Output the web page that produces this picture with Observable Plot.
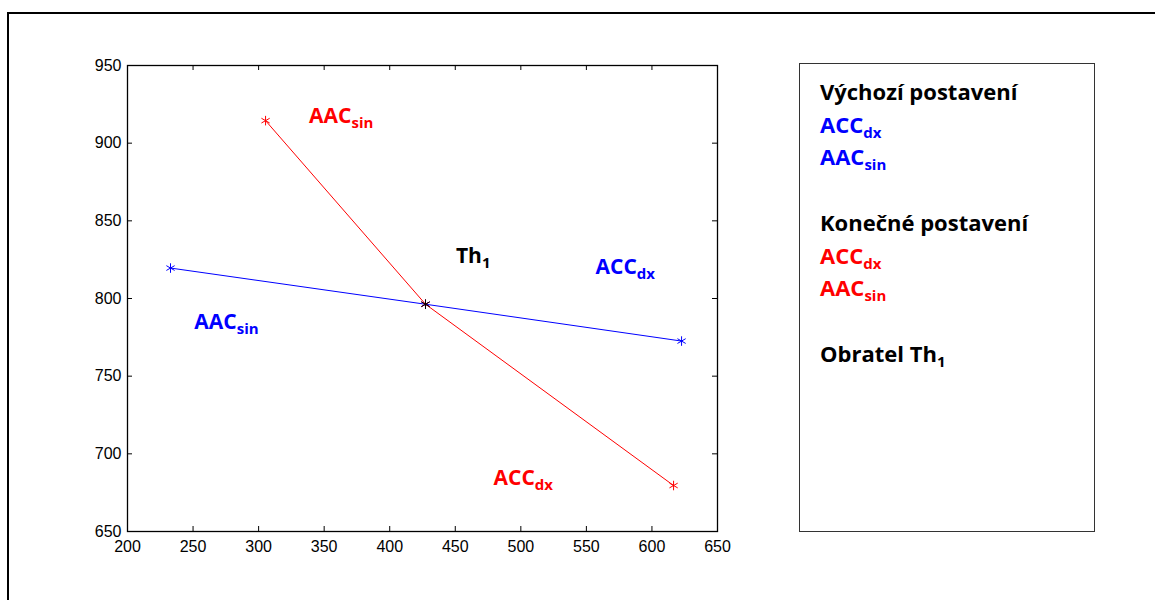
<!DOCTYPE html>
<html><head><meta charset="utf-8">
<script src="https://cdn.jsdelivr.net/npm/d3@7"></script>
<script src="https://cdn.jsdelivr.net/npm/@observablehq/plot@0.6"></script>
<style>
body{margin:0;background:#fff;width:1155px;height:600px;overflow:hidden;position:relative;}
#frame{position:absolute;left:7px;top:12px;width:1220px;height:700px;border:2px solid #000;box-sizing:border-box;}
#chart{position:absolute;left:0;top:0;}
#legend{position:absolute;left:799px;top:63px;width:296px;height:469px;border:1.5px solid #333;box-sizing:border-box;background:#fff;}
#legend svg{position:absolute;left:0;top:0;}
</style></head><body>
<div id="frame"></div><div id="chart"></div><div id="legend"></div>
<script>
// tick values
const xTicks = [200, 250, 300, 350, 400, 450, 500, 550, 600, 650];
const yTicks = [650, 700, 750, 800, 850, 900, 950];

// Výchozí postavení (blue): AAC_sin, Th1, ACC_dx
const initialX = [232.8, 427.3, 622.6];
const initialY = [819.6, 796.3, 772.6];
// Konečné postavení (red): AAC_sin, Th1, ACC_dx
const finalX = [305.3, 427.3, 616.5];
const finalY = [914.5, 796.3, 679.6];
// Obratel Th1 (black)
const th1X = [427.3];
const th1Y = [796.3];

// in-plot labels
const labelMain  = ["AAC", "Th", "ACC", "AAC", "ACC"];
const labelSub   = ["sin", "1", "dx", "sin", "dx"];
const labelX     = [338.5, 450.5, 557, 251, 479.2];
const labelY     = [917.5, 827.5, 820, 784.7, 684.2];
const labelColor = ["#ff0000", "#000000", "#0000ff", "#0000ff", "#ff0000"];

// legend
const legendMain  = ["Výchozí postavení", "ACC", "AAC", "", "Konečné postavení", "ACC", "AAC", "", "Obratel Th"];
const legendSub   = ["", "dx", "sin", "", "", "dx", "sin", "", "1"];
const legendColor = ["#000000", "#0000ff", "#0000ff", "", "#000000", "#ff0000", "#ff0000", "", "#000000"];

const initial = initialX.map((x, i) => ({x, y: initialY[i]}));
const final = finalX.map((x, i) => ({x, y: finalY[i]}));
const th1 = th1X.map((x, i) => ({x, y: th1Y[i]}));
const labels = labelMain.map((m, i) => ({main: m, sub: labelSub[i], x: labelX[i], y: labelY[i], color: labelColor[i]}));

const FONT = "'Open Sans', Lato, sans-serif";
const W = 780, H = 600, ML = 127, MR = 63, MT = 65, MB = 69;
const PW = W - ML - MR, PH = H - MT - MB, TK = 5;

const chart = Plot.plot({
  width: W,
  height: H,
  marginLeft: ML,
  marginRight: MR,
  marginTop: MT,
  marginBottom: MB,
  style: {fontFamily: "'Liberation Sans', Arial, sans-serif", fontSize: "16px", background: "transparent"},
  x: {domain: [200, 650], axis: null},
  y: {domain: [650, 950], axis: null},
  marks: [
    // inward ticks on all four sides
    Plot.ruleX(xTicks, {x: d => d, insetTop: PH - TK, stroke: "#000"}),
    Plot.ruleX(xTicks, {x: d => d, insetBottom: PH - TK, stroke: "#000"}),
    Plot.ruleY(yTicks, {y: d => d, insetRight: PW - TK, stroke: "#000"}),
    Plot.ruleY(yTicks, {y: d => d, insetLeft: PW - TK, stroke: "#000"}),
    Plot.axisX(xTicks, {anchor: "bottom", tickSize: 0, tickPadding: 9, fill: "#000", fontSize: 16, label: null}),
    Plot.axisY(yTicks, {anchor: "left", tickSize: 0, tickPadding: 6, fill: "#000", fontSize: 16, label: null}),
    Plot.frame({stroke: "#000", strokeWidth: 1.3}),
    Plot.line(initial, {x: "x", y: "y", stroke: "#0000ff", strokeWidth: 1}),
    Plot.line(final, {x: "x", y: "y", stroke: "#ff0000", strokeWidth: 1}),
    Plot.dot(initial, {x: "x", y: "y", symbol: "asterisk", r: 4.5, stroke: "#0000ff", strokeWidth: 1}),
    Plot.dot(final, {x: "x", y: "y", symbol: "asterisk", r: 4.5, stroke: "#ff0000", strokeWidth: 1}),
    Plot.dot(th1, {x: "x", y: "y", symbol: "asterisk", r: 4.5, stroke: "#000000", strokeWidth: 1}),
    Plot.text(labels, {x: "x", y: "y", text: d => d.main + d.sub, fill: "color", textAnchor: "start", lineAnchor: "middle",
      fontSize: 21, fontWeight: "bold", fontFamily: FONT})
  ]
});
document.getElementById("chart").appendChild(chart);

// split labels into main text + subscript
const lblTexts = chart.querySelectorAll('g[aria-label="text"] text');
lblTexts.forEach((t, i) => {
  const d = labels[i];
  t.textContent = "";
  const a = document.createElementNS("http://www.w3.org/2000/svg", "tspan");
  a.textContent = d.main;
  const b = document.createElementNS("http://www.w3.org/2000/svg", "tspan");
  b.textContent = d.sub;
  b.setAttribute("font-size", "15");
  b.setAttribute("dy", "5");
  t.appendChild(a); t.appendChild(b);
});

// legend
const lg = d3.select("#legend").append("svg").attr("width", 296).attr("height", 469);
legendMain.forEach((m, i) => {
  if (!m) return;
  const t = lg.append("text").attr("x", 20).attr("y", 36 + i * 32.7)
    .attr("fill", legendColor[i]).attr("font-family", FONT).attr("font-weight", "bold").attr("font-size", 22);
  t.append("tspan").text(m);
  if (legendSub[i]) t.append("tspan").attr("font-size", 15).attr("dy", 5).text(legendSub[i]);
});
</script>
</body></html>
